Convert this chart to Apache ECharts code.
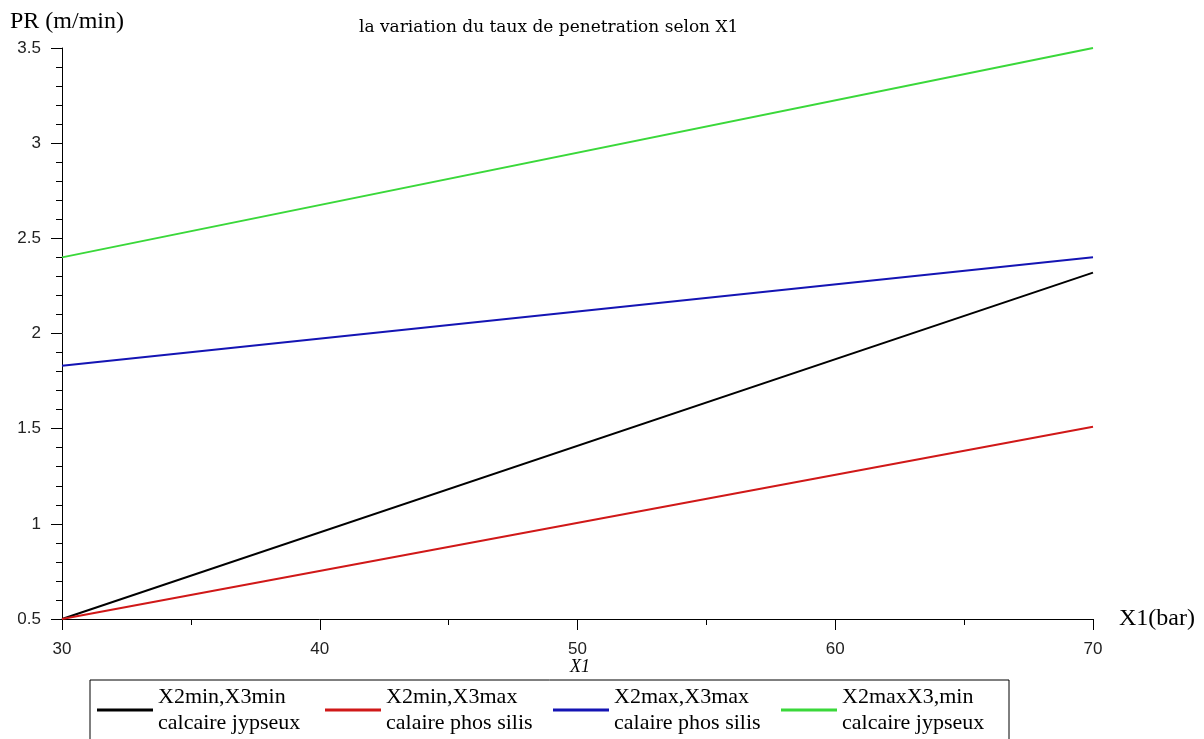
<!DOCTYPE html>
<html>
<head>
<meta charset="utf-8">
<script src="https://cdn.jsdelivr.net/npm/echarts@6/dist/echarts.min.js"></script>
<style>
html,body{margin:0;padding:0;background:#fff;}
#chart{width:1204px;height:739px;}
</style>
</head>
<body>
<div id="chart"></div>
<script>
// Data
const xValues = [30, 70];
const seriesNames = [
  'X2min,X3min\ncalcaire jypseux',
  'X2min,X3max\ncalaire phos silis',
  'X2max,X3max\ncalaire phos silis',
  'X2maxX3,min\ncalcaire jypseux'
];
const blackVals = [0.50, 2.32];
const redVals = [0.50, 1.51];
const blueVals = [1.83, 2.40];
const greenVals = [2.40, 3.50];
const seriesColors = ['#000000', '#d01818', '#1414b4', '#3ad83a'];
const yTicks = [0.5, 1, 1.5, 2, 2.5, 3, 3.5];
const xTicks = [30, 40, 50, 60, 70];

const allVals = [blackVals, redVals, blueVals, greenVals];
const serif = 'Liberation Serif';

const series = allVals.map((vals, i) => ({
  name: seriesNames[i],
  type: 'line',
  data: xValues.map((x, j) => [x, vals[j]]),
  symbol: 'none',
  lineStyle: { color: seriesColors[i], width: 2 },
  itemStyle: { color: seriesColors[i] },
  animation: false,
  z: 3
}));

const chart = echarts.init(document.getElementById('chart'));
chart.setOption({
  backgroundColor: '#fff',
  animation: false,
  title: {
    text: 'la variation du taux de penetration selon X1',
    left: 354,
    top: 14,
    textStyle: { fontFamily: 'DejaVu Serif', fontSize: 17, fontWeight: 'normal', color: '#000' }
  },
  grid: { left: 62, right: 111, top: 48, bottom: 120, containLabel: false },
  xAxis: {
    type: 'value',
    min: xTicks[0],
    max: xTicks[xTicks.length - 1],
    interval: 10,
    name: 'X1(bar)',
    nameLocation: 'end',
    nameGap: 26,
    nameTextStyle: { fontFamily: serif, fontSize: 24, color: '#000', verticalAlign: 'middle' },
    axisLine: { show: true, onZero: false, lineStyle: { color: '#000', width: 1 } },
    axisTick: { show: true, length: 11, lineStyle: { color: '#000' } },
    minorTick: { show: true, splitNumber: 2, length: 6, lineStyle: { color: '#000' } },
    splitLine: { show: false },
    axisLabel: { margin: 22, fontFamily: 'Liberation Sans', fontSize: 17, color: '#222' }
  },
  yAxis: {
    type: 'value',
    min: yTicks[0],
    max: yTicks[yTicks.length - 1],
    interval: 0.5,
    name: 'PR (m/min)',
    nameLocation: 'end',
    nameGap: 14,
    nameTextStyle: { fontFamily: serif, fontSize: 24, color: '#000', align: 'center', padding: [0, 0, 0, 10] },
    axisLine: { show: true, onZero: false, lineStyle: { color: '#000', width: 1 } },
    axisTick: { show: true, length: 11, lineStyle: { color: '#000' } },
    minorTick: { show: true, splitNumber: 5, length: 6, lineStyle: { color: '#000' } },
    splitLine: { show: false },
    axisLabel: { margin: 21, fontFamily: 'Liberation Sans', fontSize: 17, color: '#222' }
  },
  legend: {
    show: true,
    orient: 'horizontal',
    left: 90,
    top: 680,
    padding: [4, 8, 8, 7],
    itemGap: 8,
    itemWidth: 56,
    itemHeight: 3,
    icon: 'rect',
    borderColor: '#000',
    borderWidth: 1,
    borderRadius: 0,
    data: seriesNames,
    textStyle: { fontFamily: serif, fontSize: 22, color: '#000', lineHeight: 26, width: 159 }
  },
  graphic: [{
    type: 'text',
    left: 570,
    top: 658,
    style: { text: 'X1', font: 'italic 18px "Liberation Serif"', fill: '#000' }
  }],
  series: series
});
</script>
</body>
</html>
